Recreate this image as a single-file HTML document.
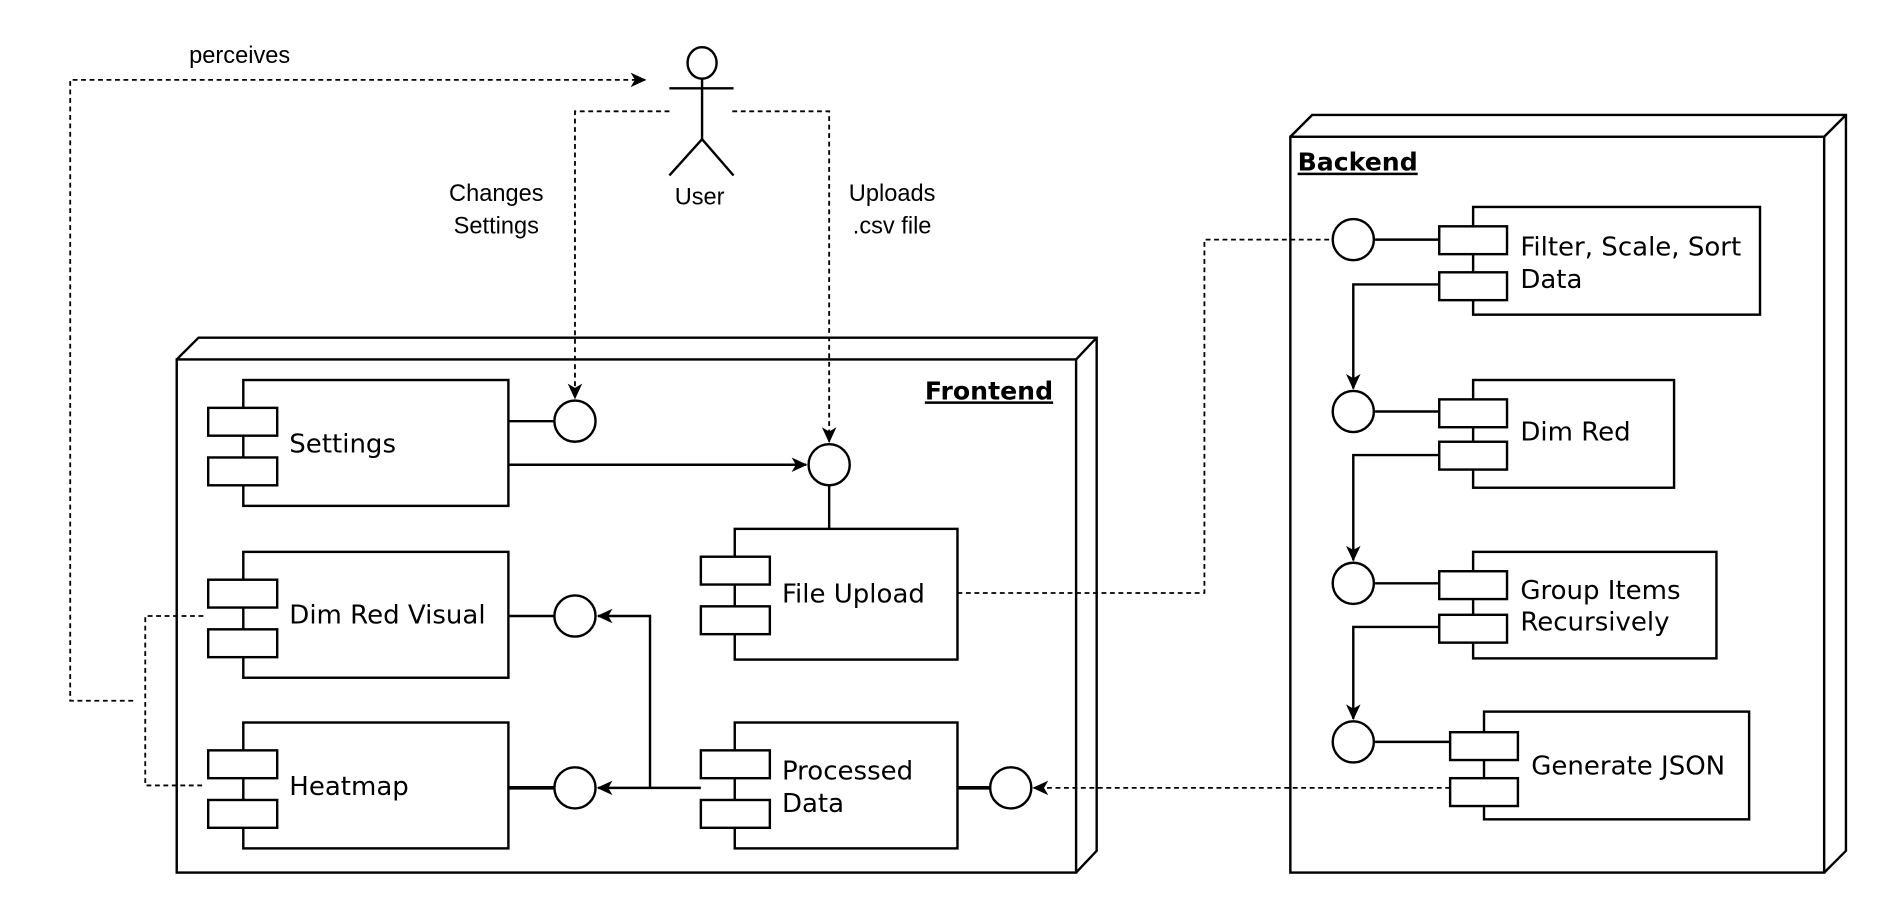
<!DOCTYPE html>
<html><head><meta charset="utf-8"><style>html,body{margin:0;padding:0;background:#fff}svg{display:block}</style></head><body>
<svg width="1898" height="898" viewBox="0 0 1568 742" preserveAspectRatio="none" xmlns="http://www.w3.org/2000/svg">
<defs>
<marker id="a" markerWidth="14" markerHeight="14" refX="12" refY="7" orient="auto" markerUnits="userSpaceOnUse"><path d="M0,1 L13,7 L0,13 L3.5,7 Z" fill="#000"/></marker>
</defs>
<g fill="#fff" stroke="#000" stroke-width="2">
<path d="M146,297 L164,279 L906,279 L906,703 L889,721 M889,297 L906,279"/>
<rect x="146" y="297" width="743" height="424"/>
<path d="M1066,113 L1084,95 L1525,95 L1525,703 L1507,721 M1507,113 L1525,95"/>
<rect x="1066" y="113" width="441" height="608"/>
<rect x="201" y="314" width="219" height="104"/><rect x="172" y="337" width="57" height="23"/><rect x="172" y="378" width="57" height="23"/>
<rect x="201" y="456" width="219" height="104"/><rect x="172" y="479" width="57" height="23"/><rect x="172" y="520" width="57" height="23"/>
<rect x="201" y="597" width="219" height="104"/><rect x="172" y="620" width="57" height="23"/><rect x="172" y="661" width="57" height="23"/>
<rect x="607" y="437" width="184" height="108"/><rect x="579" y="460" width="57" height="23"/><rect x="579" y="501" width="57" height="23"/>
<rect x="607" y="597" width="184" height="104"/><rect x="579" y="620" width="57" height="23"/><rect x="579" y="661" width="57" height="23"/>
<rect x="1217" y="171" width="237" height="89"/><rect x="1189" y="187" width="56" height="23"/><rect x="1189" y="225" width="56" height="23"/>
<rect x="1217" y="314" width="166" height="89"/><rect x="1189" y="330" width="56" height="23"/><rect x="1189" y="365" width="56" height="23"/>
<rect x="1217" y="456" width="201" height="88"/><rect x="1189" y="472" width="56" height="23"/><rect x="1189" y="508" width="56" height="23"/>
<rect x="1226" y="588" width="219" height="89"/><rect x="1198" y="605" width="56" height="23"/><rect x="1198" y="643" width="56" height="23"/>
</g>
<g stroke="#000" stroke-width="2" fill="none">
<line x1="420" y1="348" x2="458" y2="348"/>
<line x1="420" y1="384" x2="666" y2="384" marker-end="url(#a)"/>
<line x1="685" y1="401" x2="685" y2="437"/>
<line x1="420" y1="509" x2="458" y2="509"/>
<line x1="420" y1="651" x2="458" y2="651" stroke-width="3"/>
<line x1="791" y1="651" x2="818" y2="651" stroke-width="3"/>
<path d="M579,651 L494,651" marker-end="url(#a)"/>
<path d="M537,651 L537,509 L494,509" marker-end="url(#a)"/>
<line x1="1136" y1="198" x2="1189" y2="198"/>
<line x1="1136" y1="340" x2="1189" y2="340"/>
<line x1="1136" y1="482" x2="1189" y2="482"/>
<line x1="1136" y1="613" x2="1198" y2="613"/>
<path d="M1189,235 L1118,235 L1118,321" marker-end="url(#a)"/>
<path d="M1189,376 L1118,376 L1118,463" marker-end="url(#a)"/>
<path d="M1189,518 L1118,518 L1118,594" marker-end="url(#a)"/>
<ellipse cx="580" cy="52" rx="12" ry="13" fill="#fff"/>
<line x1="580" y1="65" x2="580" y2="115"/>
<line x1="553" y1="73" x2="606" y2="73"/>
<path d="M553,145 L580,115 L606,145"/>
</g>
<g fill="#fff" stroke="#000" stroke-width="2">
<circle cx="475" cy="348" r="17"/><circle cx="685" cy="384" r="17"/><circle cx="475" cy="509" r="17"/>
<circle cx="475" cy="651" r="17"/><circle cx="835" cy="651" r="17"/>
<circle cx="1118" cy="198" r="17"/><circle cx="1118" cy="340" r="17"/><circle cx="1118" cy="482" r="17"/><circle cx="1118" cy="613" r="17"/>
</g>
<g stroke="#000" stroke-width="1.5" fill="none" stroke-dasharray="4,3">
<path d="M168,509 L120,509 L120,649 L168,649"/>
<path d="M110,579 L58,579 L58,66 L533,66" marker-end="url(#a)"/>
<path d="M553,92 L475,92 L475,329" marker-end="url(#a)"/>
<path d="M605,92 L685,92 L685,365" marker-end="url(#a)"/>
<path d="M791,490 L995,490 L995,198 L1100,198"/>
<path d="M1198,651 L854,651" marker-end="url(#a)"/>
</g>
<g font-family="'Liberation Sans',Arial,sans-serif" font-size="19.5" fill="#000" text-anchor="middle">
<text x="198" y="52">perceives</text>
<text x="578" y="169">User</text>
<text x="410" y="166">Changes</text><text x="410" y="193">Settings</text>
<text x="737" y="166">Uploads</text><text x="737" y="193">.csv file</text>
</g>
<g font-family="'DejaVu Sans',sans-serif" font-size="21.5" fill="#000">
<text x="239" y="374">Settings</text>
<text x="239" y="515">Dim Red Visual</text>
<text x="239" y="657">Heatmap</text>
<text x="646" y="498">File Upload</text>
<text x="646" y="644">Processed</text><text x="646" y="671">Data</text>
<text x="1256" y="211">Filter, Scale, Sort</text><text x="1256" y="238">Data</text>
<text x="1256" y="364">Dim Red</text>
<text x="1256" y="495">Group Items</text><text x="1256" y="521">Recursively</text>
<text x="1265" y="640">Generate JSON</text>
<text x="870" y="330" font-weight="bold" text-decoration="underline" text-anchor="end" font-size="20.8">Frontend</text>
<text x="1072" y="141" font-weight="bold" text-decoration="underline" font-size="20.8">Backend</text>
</g>
</svg>
</body></html>
